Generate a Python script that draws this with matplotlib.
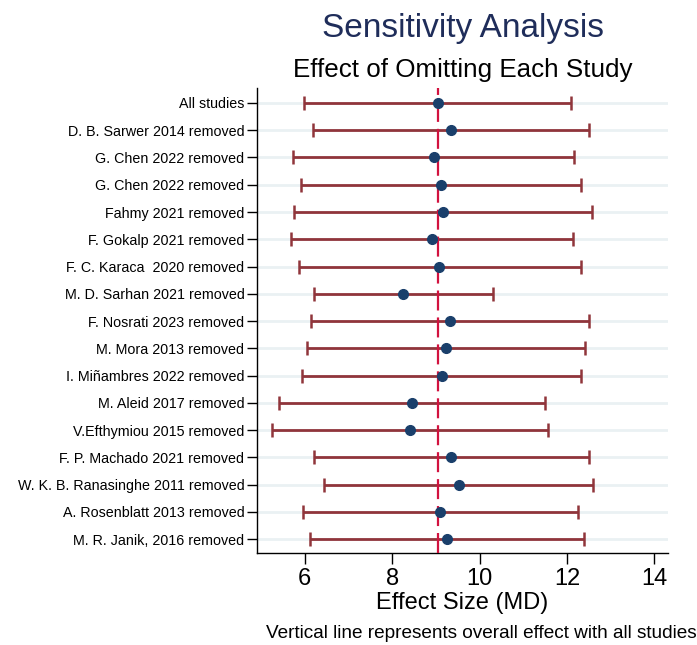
import numpy as np
import matplotlib
matplotlib.use("Agg")
import matplotlib.pyplot as plt

plt.rcParams["font.family"] = ["Liberation Sans", "DejaVu Sans"]
plt.rcParams["lines.scale_dashes"] = False

# Leave-one-out estimates
labels = [
    "All studies",
    "D. B. Sarwer 2014 removed",
    "G. Chen 2022 removed",
    "G. Chen 2022 removed",
    "Fahmy 2021 removed",
    "F. Gokalp 2021 removed",
    "F. C. Karaca  2020 removed",
    "M. D. Sarhan 2021 removed",
    "F. Nosrati 2023 removed",
    "M. Mora 2013 removed",
    "I. Miñambres 2022 removed",
    "M. Aleid 2017 removed",
    "V.Efthymiou 2015 removed",
    "F. P. Machado 2021 removed",
    "W. K. B. Ranasinghe 2011 removed",
    "A. Rosenblatt 2013 removed",
    "M. R. Janik, 2016 removed",
]
effect = [9.04, 9.34, 8.95, 9.11, 9.16, 8.90, 9.08, 8.24, 9.32, 9.23,
          9.13, 8.45, 8.40, 9.35, 9.52, 9.10, 9.26]
lower = [5.98, 6.18, 5.72, 5.91, 5.75, 5.68, 5.86, 6.20, 6.14, 6.05,
         5.94, 5.40, 5.26, 6.20, 6.44, 5.96, 6.12]
upper = [12.10, 12.51, 12.16, 12.33, 12.57, 12.13, 12.31, 10.30, 12.51, 12.42,
         12.33, 11.50, 11.56, 12.51, 12.59, 12.25, 12.39]
overall = effect[0]

x_ticks = [6, 8, 10, 12, 14]

CI_COLOR = "#90353b"
POINT_COLOR = "#1a3f6b"
LINE_COLOR = "#d2123f"
GRID_COLOR = "#eaf1f3"
TITLE_COLOR = "#1f2d5a"

fig = plt.figure(figsize=(6.97, 6.45), dpi=100)
ax = fig.add_axes([0.3687, 0.1426, 0.5897, 0.721])

y = np.arange(len(labels))
eff = np.array(effect)
lo = np.array(lower)
hi = np.array(upper)

for yi in y:
    ax.axhline(yi, color=GRID_COLOR, lw=2.0, zorder=0)

ax.errorbar(eff, y, xerr=[eff - lo, hi - eff], fmt="none", ecolor=CI_COLOR,
            elinewidth=2.0, capsize=5, capthick=1.8, zorder=2)
ax.axvline(overall, color=LINE_COLOR, lw=1.6, linestyle=(0, (14.4, 5.0)),
           zorder=3)
ax.plot(eff, y, "o", color=POINT_COLOR, markersize=7, zorder=4)

ax.set_xlim(4.906, 14.31)
ax.set_ylim(len(labels) - 0.49, -0.55)
ax.set_xticks(x_ticks)
ax.set_yticks(y)
ax.set_yticklabels(labels, fontsize=10.3)
ax.tick_params(axis="x", labelsize=17, length=8, width=1, pad=3)
ax.tick_params(axis="y", length=7, width=1, pad=2)

for side in ["top", "right"]:
    ax.spines[side].set_visible(False)
for side in ["left", "bottom"]:
    ax.spines[side].set_linewidth(1.0)

ax.set_xlabel("Effect Size (MD)", fontsize=17, labelpad=1)

fig.text(0.6636, 0.956, "Sensitivity Analysis", ha="center", va="center",
         fontsize=24, color=TITLE_COLOR)
fig.text(0.6636, 0.892, "Effect of Omitting Each Study", ha="center",
         va="center", fontsize=18.7, color="black")
fig.text(0.999, 0.004, "Vertical line represents overall effect with all studies",
         ha="right", va="bottom", fontsize=13.7, color="black")

fig.savefig("out.png", dpi=100, facecolor="white")
